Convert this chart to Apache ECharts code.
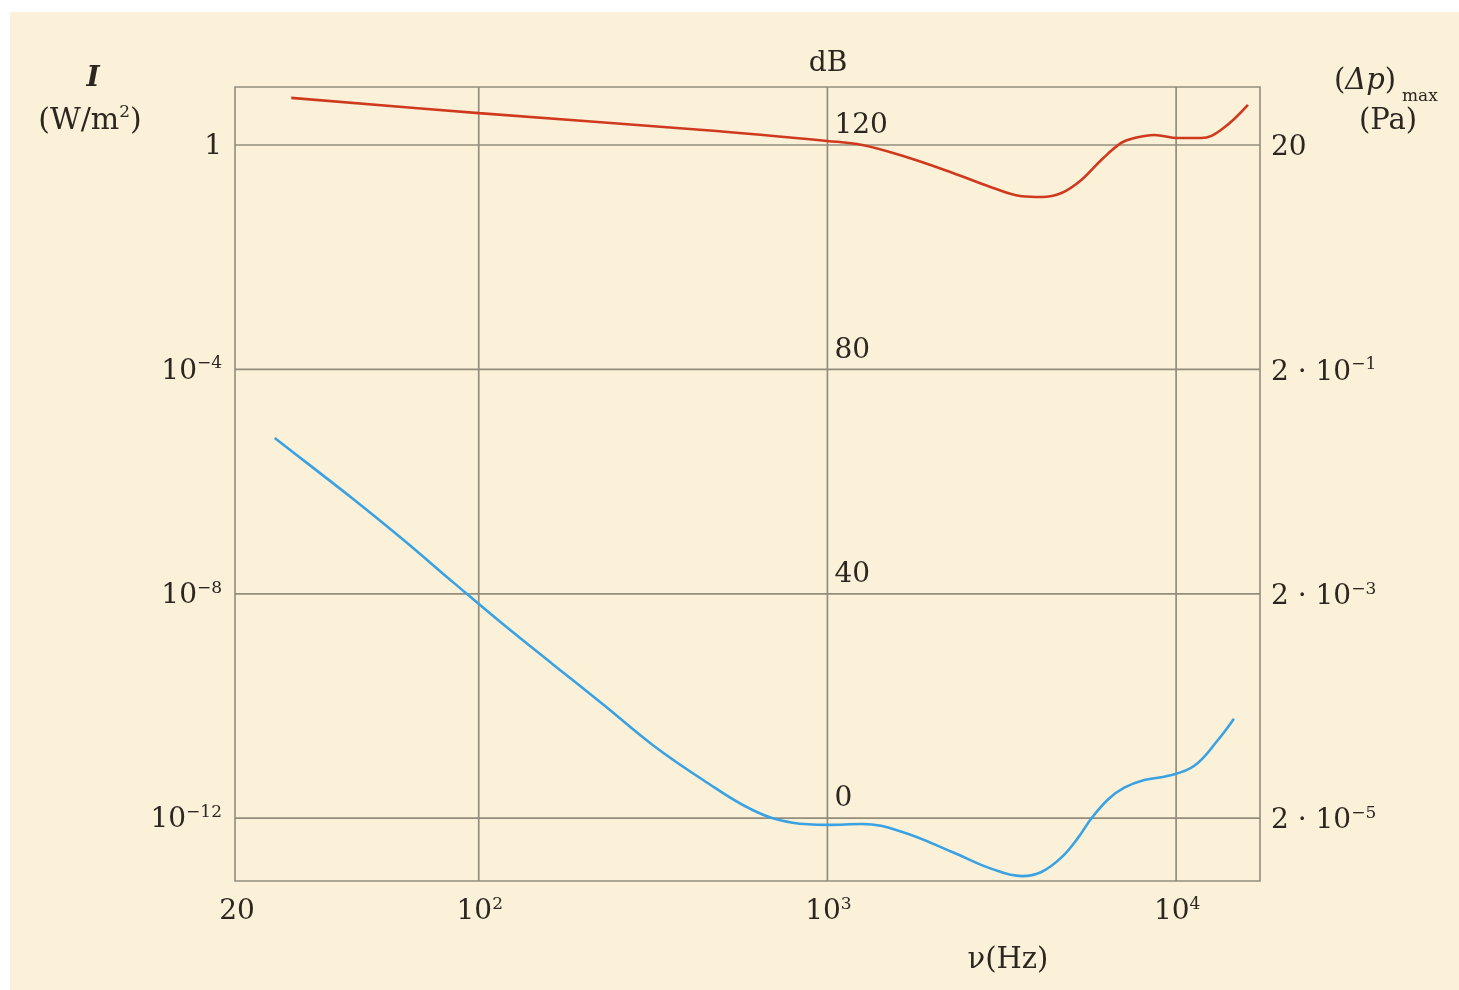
<!DOCTYPE html>
<html>
<head>
<meta charset="utf-8">
<script src="https://cdn.jsdelivr.net/npm/echarts@6/dist/echarts.min.js"></script>
<style>
html,body{margin:0;padding:0;background:#ffffff;}
#c{width:1459px;height:990px;}
</style>
</head>
<body>
<div id="c"></div>
<script>
// ---- data (frequency in Hz, intensity in W/m^2) ----
const freqPain = [29, 100, 440, 1000, 1259, 1640, 2280, 2960, 3610, 4110, 4690, 5350, 6100, 6960, 7590, 8650, 10130, 11800, 13440, 16070];
const intensityPain = [6.9, 3.7, 1.85, 1.18, 1.0, 0.64, 0.32, 0.175, 0.122, 0.118, 0.139, 0.238, 0.54, 1.09, 1.33, 1.51, 1.33, 1.33, 1.85, 5.2];

const freqHearing = [26, 32, 44, 61, 85, 118, 164, 228, 316, 440, 610, 794, 1000, 1259, 1640, 2280, 2960, 3610, 4110, 4690, 5250, 5720, 6400, 7100, 8100, 9490, 11250, 13200, 14650];
const intensityHearing = [6e-6, 2.2e-6, 4.7e-7, 9e-8, 1.55e-8, 2.8e-9, 5.4e-10, 1.05e-10, 2e-11, 4.8e-12, 1.4e-12, 8.3e-13, 7.6e-13, 7.9e-13, 5.7e-13, 2.5e-13, 1.25e-13, 9.3e-14, 1.1e-13, 2.0e-13, 4.6e-13, 1.0e-12, 2.2e-12, 3.5e-12, 4.8e-12, 5.7e-12, 8.5e-12, 2.5e-11, 5.9e-11];

// tick values and labels
const xTickValues = [20, 100, 1000, 10000];
const xTickLabels = [['20', ''], ['10', '2'], ['10', '3'], ['10', '4']];
const xGridValues = [100, 1000, 10000];
const yTickValues = [1, 1e-4, 1e-8, 1e-12];
const yLeftLabels = [['1', ''], ['10', '−4'], ['10', '−8'], ['10', '−12']];
const yRightLabels = [['20', ''], ['2 · 10', '−1'], ['2 · 10', '−3'], ['2 · 10', '−5']];
const dbLabels = ['120', '80', '40', '0'];

const FONT = '"DejaVu Serif", "Liberation Serif", serif';
const INK = '#2b2620';
const GRIDC = '#938d7d';

const chart = echarts.init(document.getElementById('c'), null, {renderer: 'canvas'});

const zip = (a, b) => a.map((v, i) => [v, b[i]]);

const option = {
  backgroundColor: '#ffffff',
  animation: false,
  grid: {left: 235, right: 199, top: 87, bottom: 109, show: true, borderColor: GRIDC, borderWidth: 1.6, backgroundColor: 'transparent'},
  xAxis: {type: 'log', logBase: 10, min: 20, max: 17400,
    axisLine: {show: false}, axisTick: {show: false}, axisLabel: {show: false}, splitLine: {show: false}},
  yAxis: {type: 'log', logBase: 10, min: 7.6e-14, max: 10.8,
    axisLine: {show: false}, axisTick: {show: false}, axisLabel: {show: false}, splitLine: {show: false}},
  series: [
    {
      name: 'pain', type: 'line', data: zip(freqPain, intensityPain), smooth: 0.4,
      showSymbol: false, lineStyle: {color: '#cf3a1e', width: 2.6}, z: 5
    },
    {
      name: 'hearing', type: 'line', data: zip(freqHearing, intensityHearing), smooth: 0.4,
      showSymbol: false, lineStyle: {color: '#3aa2e2', width: 2.6}, z: 5
    }
  ]
};
chart.setOption(option);

function richText(main, sup, size, supSize, tail) {
  let t = '{m|' + main + '}';
  if (sup) t += '{s|' + sup + '}';
  if (tail) t += '{m|' + tail + '}';
  return {
    text: t,
    rich: {
      m: {fontSize: size, fontFamily: FONT, fill: INK, color: INK, lineHeight: size + 4},
      s: {fontSize: supSize, fontFamily: FONT, fill: INK, color: INK, verticalAlign: 'top', lineHeight: supSize + 2}
    }
  };
}

const px = (x, y) => chart.convertToPixel({gridIndex: 0}, [x, y]);
const graphics = [];
// cream panel background
graphics.push({type: 'rect', z: -10, silent: true, shape: {x: 10, y: 12, width: 1449, height: 978}, style: {fill: '#fbf1d8'}});

const gx0 = px(20, 1)[0], gx1 = px(17400, 1)[0];
const gy0 = px(20, 10.8)[1], gy1 = px(20, 7.6e-14)[1];
// grid lines through the axis scales
xGridValues.forEach(v => {
  const xx = px(v, 1)[0];
  graphics.push({type: 'line', z: 1, silent: true, shape: {x1: xx, y1: gy0, x2: xx, y2: gy1}, style: {stroke: GRIDC, lineWidth: 1.7}});
});
yTickValues.forEach(v => {
  const yy = px(20, v)[1];
  graphics.push({type: 'line', z: 1, silent: true, shape: {x1: gx0, y1: yy, x2: gx1, y2: yy}, style: {stroke: GRIDC, lineWidth: 1.7}});
});

const x1000 = px(1000, 1)[0];
yTickValues.forEach((v, i) => {
  const yy = px(20, v)[1];
  const L = yLeftLabels[i];
  graphics.push({type: 'text', z: 10, x: 222, y: yy + 2, style: Object.assign(richText(L[0], L[1], 28, 17), {align: 'right', verticalAlign: 'middle'})});
  const R = yRightLabels[i];
  graphics.push({type: 'text', z: 10, x: 1271, y: yy + 3, style: Object.assign(richText(R[0], R[1], 28, 17), {align: 'left', verticalAlign: 'middle'})});
  graphics.push({type: 'text', z: 10, x: x1000 + 7, y: yy - 19, style: Object.assign(richText(dbLabels[i], '', 28, 15), {align: 'left', verticalAlign: 'middle'})});
});
xTickValues.forEach((v, i) => {
  const xx = px(v, 1)[0];
  const T = xTickLabels[i];
  graphics.push({type: 'text', z: 10, x: xx + (i === 0 ? 2 : 1), y: 912, style: Object.assign(richText(T[0], T[1], 28, 17), {align: 'center', verticalAlign: 'middle'})});
});
// axis titles
graphics.push({type: 'text', z: 10, x: 828, y: 64, style: Object.assign(richText('dB', '', 28, 15), {align: 'center', verticalAlign: 'middle'})});
graphics.push({type: 'text', z: 10, x: 1008, y: 960, style: Object.assign(richText('ν(Hz)', '', 29, 15), {align: 'center', verticalAlign: 'middle'})});
graphics.push({type: 'text', z: 10, x: 93, y: 79, style: {text: 'I', font: 'italic bold 28px ' + FONT, fill: INK, align: 'center', verticalAlign: 'middle'}});
graphics.push({type: 'text', z: 10, x: 90, y: 121, style: Object.assign(richText('(W/m', '2', 30, 17, ')'), {align: 'center', verticalAlign: 'middle'})});
graphics.push({type: 'text', z: 10, x: 1334, y: 81, style: {
  text: '{a|(}{b|Δp}{a|)}',
  rich: {
    a: {fontSize: 29, fontFamily: FONT, fill: INK, color: INK, lineHeight: 34},
    b: {fontSize: 29, fontFamily: FONT, fontStyle: 'italic', fill: INK, color: INK, lineHeight: 34}
  },
  align: 'left', verticalAlign: 'middle'}});
graphics.push({type: 'text', z: 10, x: 1402, y: 97, style: {text: 'max', font: '17px ' + FONT, fill: INK, align: 'left', verticalAlign: 'middle'}});
graphics.push({type: 'text', z: 10, x: 1388, y: 121, style: Object.assign(richText('(Pa)', '', 29, 14), {align: 'center', verticalAlign: 'middle'})});

chart.setOption({graphic: graphics});
</script>
</body>
</html>
